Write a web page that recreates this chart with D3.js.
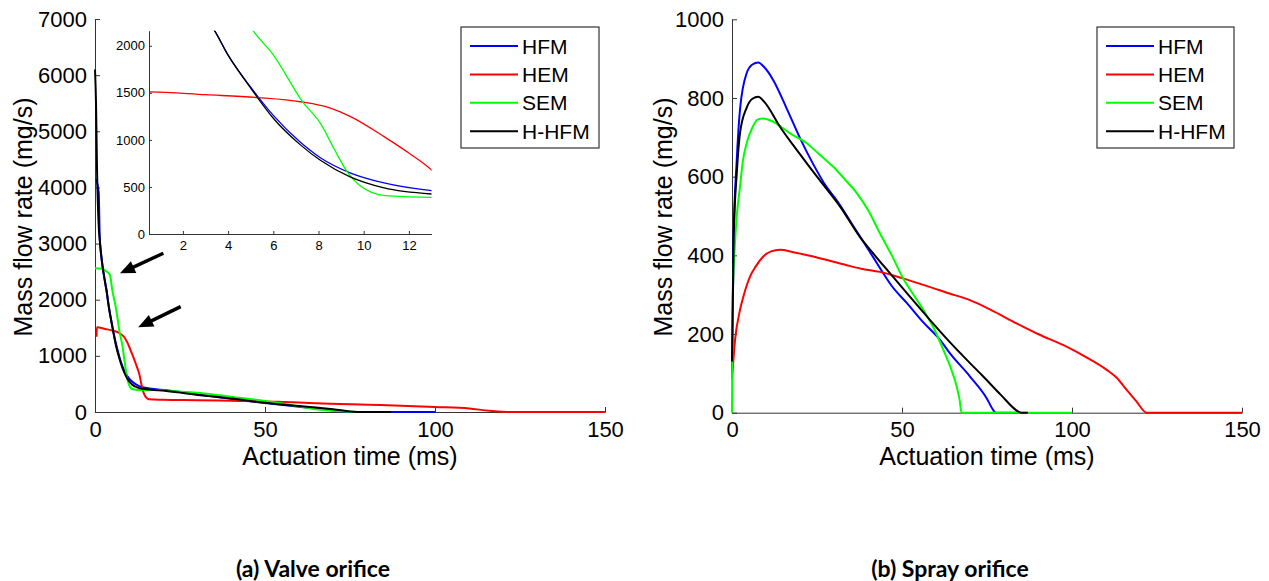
<!DOCTYPE html>
<html>
<head>
<meta charset="utf-8">
<script src="https://cdn.jsdelivr.net/npm/d3@7"></script>
<style>
  body { margin: 0; background: #fff; }
  svg { display: block; }
</style>
</head>
<body>
<div id="chart"></div>
<script>
// legend names and line colours, same order in both panels
const seriesNames = ['HFM', 'HEM', 'SEM', 'H-HFM'];
const seriesColors = ['#0000ff', '#ff0000', '#00ff00', '#000000'];

// (a) valve orifice, [actuation time ms, mass flow rate mg/s]
const valveHFM = [[0.3, 4150], [1.1, 3900], [1.4, 3100], [2, 2700], [3, 2300], [3.4, 2160], [4, 1900], [5, 1560],
  [6, 1260], [7.2, 975], [8.1, 808], [9.4, 650], [10.9, 542], [13, 460], [16, 420], [21, 388], [31, 305],
  [40, 235], [50, 160], [60, 95], [65, 60], [70, 25], [74, 3], [76, 0], [100, 0]];
const valveHEM = [[0.45, 1340], [0.55, 1510], [3, 1480], [5.3, 1450], [7.2, 1405], [8.5, 1340],
  [9.4, 1250], [10.9, 1035], [12, 860], [13, 680], [14, 400], [15, 260], [16, 225], [20, 218], [30, 210],
  [40, 200], [54, 183], [65, 155], [84, 125], [100, 89], [110, 62], [116, 23], [122, 0], [150, 0]];
const valveSEM = [[0, 2560], [2, 2550], [3.5, 2500], [4.4, 2440], [5.1, 2163], [6, 1904], [7.3, 1404],
  [8.1, 1170], [8.7, 900], [9.3, 650], [9.8, 520], [10.3, 447], [11.1, 404], [13, 390], [16, 398],
  [21, 378], [31, 338], [40, 272], [50, 195], [60, 100], [65, 50], [70, 20], [75, 3], [78, 0]];
const valveHHFM = [[0, 6100], [0.3, 5500], [0.6, 4300], [1.1, 3300], [1.5, 3000], [2, 2700], [3, 2300],
  [3.4, 2160], [4, 1900], [5, 1550], [5.3, 1450], [6, 1230], [7.2, 947], [8.1, 780], [9.4, 606],
  [10.9, 489], [13, 425], [16, 400], [21, 375], [31, 300], [40, 240], [50, 165], [60, 105], [65, 80],
  [70, 50], [77, 2], [87, 0]];

// (b) spray orifice
const sprayHFM = [[0, 100], [0.5, 450], [1.4, 642], [2.35, 770], [4.3, 863], [6, 885], [7.7, 890],
  [9.5, 878], [12.1, 846], [16, 775], [20, 698], [24, 630], [27.8, 574], [30.8, 540], [36, 470],
  [40.6, 408], [43.5, 368], [47, 322], [51.4, 279], [56, 232], [61.2, 185], [64, 152], [70, 92],
  [74.9, 37], [76.8, 7], [77.5, 0], [84, 0]];
const sprayHEM = [[0, 85], [0.9, 185], [2.35, 261], [3.5, 300], [5.3, 346], [7, 372], [9.2, 397],
  [11.5, 410], [14.1, 414], [18, 408], [23.9, 397], [28, 388], [33.7, 375], [38, 366], [43.5, 358],
  [50, 342], [56.3, 325], [64, 303], [70, 286], [76, 262], [83.7, 227], [90, 200], [98.4, 168],
  [104, 142], [110.2, 109], [113, 90], [116.1, 58], [119, 28], [122, 0], [150, 0]];
const spraySEM = [[0, 0], [0.2, 300], [0.8, 420], [1.4, 500], [2.35, 574], [3.2, 640], [4.3, 685],
  [6, 725], [7.5, 745], [9.2, 748], [12, 740], [17.1, 710], [22, 685], [25.5, 658], [29.8, 625],
  [33, 595], [36.7, 558], [40, 515], [43.5, 456], [47, 400], [50.3, 342], [53, 305], [56.3, 261],
  [59.5, 212], [62.2, 159], [64.5, 110], [66.1, 66], [67, 30], [67.5, 0], [100, 0]];
const sprayHHFM = [[0, 130], [0.5, 450], [1.4, 608], [2.35, 710], [4.3, 775], [6, 798], [7.7, 803],
  [9.5, 790], [14.1, 727], [18, 680], [22, 634], [27, 578], [31.8, 524], [37.6, 447], [42, 400],
  [46.5, 354], [52, 298], [58.2, 236], [64, 180], [70, 126], [73.9, 92], [79, 46], [84.2, 3],
  [85, 0], [87, 0]];

const xTicks = [0, 50, 100, 150];
const valveYTicks = [0, 1000, 2000, 3000, 4000, 5000, 6000, 7000];
const sprayYTicks = [0, 200, 400, 600, 800, 1000];
const insetXTicks = [2, 4, 6, 8, 10, 12];
const insetYTicks = [0, 500, 1000, 1500, 2000];

// arrows in panel (a), [tail, tip] in data units
const valveArrows = [[[20.1, 2827], [7.35, 2470]], [[25.2, 1877], [12.7, 1509]]];

const xTitle = 'Actuation time (ms)';
const yTitle = 'Mass flow rate (mg/s)';
const captions = ['(a) Valve orifice', '(b) Spray orifice'];

const font = '"Liberation Sans", Arial, sans-serif';
const width = 1269;
const height = 581;

const svg = d3.select('#chart')
  .append('svg')
  .attr('width', width)
  .attr('height', height)
  .style('background', '#fff');

const makeScales = ({xDomain, yDomain, left, right, top, bottom}) => {
  const x = d3.scaleLinear().domain(xDomain).range([left, right]);
  const y = d3.scaleLinear().domain(yDomain).range([bottom, top]);
  return {x, y};
};

const drawAxes = ({sel, scales, xValues, yValues, size, tick, padX, padY}) => {
  const [x0] = scales.x.range();
  const [y0] = scales.y.range();
  const fmt = d3.format('d');

  const gx = sel.append('g')
    .attr('transform', 'translate(0,' + y0 + ')')
    .call(d3.axisBottom(scales.x).tickValues(xValues).tickFormat(fmt)
      .tickSizeInner(-tick).tickSizeOuter(0).tickPadding(padX));

  const gy = sel.append('g')
    .attr('transform', 'translate(' + x0 + ',0)')
    .call(d3.axisLeft(scales.y).tickValues(yValues).tickFormat(fmt)
      .tickSizeInner(-tick).tickSizeOuter(0).tickPadding(padY));

  [gx, gy].forEach((g) => {
    g.select('.domain').attr('stroke', '#333');
    g.selectAll('.tick line').attr('stroke', '#333');
    g.selectAll('.tick text')
      .attr('font-family', font)
      .attr('font-size', size)
      .attr('fill', '#000');
  });
};

const makeLine = (scales) =>
  d3.line().curve(d3.curveMonotoneX).x((d) => scales.x(d[0])).y((d) => scales.y(d[1]));

const drawSeries = ({sel, scales, series, width}) => {
  const line = makeLine(scales);
  series.forEach((data, i) => {
    sel.append('path')
      .attr('d', line(data))
      .attr('fill', 'none')
      .attr('stroke', seriesColors[i])
      .attr('stroke-width', width)
      .attr('stroke-linejoin', 'round');
  });
};

const drawLegend = ({sel, left, top, w, h}) => {
  const g = sel.append('g');
  g.append('rect')
    .attr('x', left).attr('y', top)
    .attr('width', w).attr('height', h)
    .attr('fill', '#fff')
    .attr('stroke', '#333')
    .attr('stroke-width', 1.2);

  seriesNames.forEach((name, i) => {
    const cy = top + 19 + i * 28.4;
    g.append('line')
      .attr('x1', left + 9).attr('x2', left + 57)
      .attr('y1', cy).attr('y2', cy)
      .attr('stroke', seriesColors[i])
      .attr('stroke-width', 2);
    g.append('text')
      .attr('x', left + 61)
      .attr('y', cy)
      .attr('dy', '0.36em')
      .attr('font-family', font)
      .attr('font-size', 21)
      .text(name);
  });
};

const drawTitles = ({sel, scales, yTitleX}) => {
  const [x0, x1] = scales.x.range();
  sel.append('text')
    .attr('x', (x0 + x1) / 2)
    .attr('y', 465)
    .attr('text-anchor', 'middle')
    .attr('font-family', font)
    .attr('font-size', 25)
    .text(xTitle);

  sel.append('text')
    .attr('transform', `translate(${yTitleX}, 217) rotate(-90)`)
    .attr('text-anchor', 'middle')
    .attr('font-family', font)
    .attr('font-size', 25)
    .text(yTitle);
};

const drawArrows = ({sel, scales, arrows}) => {
  arrows.forEach(([tail, tip]) => {
    const tx = scales.x(tail[0]), ty = scales.y(tail[1]);
    const hx = scales.x(tip[0]), hy = scales.y(tip[1]);
    const len = Math.hypot(hx - tx, hy - ty);
    const ux = (hx - tx) / len, uy = (hy - ty) / len;
    const head = 15, half = 6.5;
    const bx = hx - ux * head, by = hy - uy * head;

    sel.append('line')
      .attr('x1', tx).attr('y1', ty)
      .attr('x2', bx + ux * 2).attr('y2', by + uy * 2)
      .attr('stroke', '#000')
      .attr('stroke-width', 3.5);

    sel.append('path')
      .attr('d', `M${hx},${hy}L${bx - uy * half},${by + ux * half}L${bx + uy * half},${by - ux * half}Z`)
      .attr('fill', '#000');
  });
};

// ---- panel (a) valve orifice
const valve = makeScales({xDomain: [0, 150], yDomain: [0, 7000], left: 95, right: 605, top: 19, bottom: 412});
const gValve = svg.append('g');
drawAxes({sel: gValve, scales: valve, xValues: xTicks, yValues: valveYTicks, size: 22, tick: 5, padX: 9, padY: 8});
drawSeries({sel: gValve, scales: valve, series: [valveHFM, valveHEM, valveSEM, valveHHFM], width: 2});
drawTitles({sel: gValve, scales: valve, yTitleX: 31.5});
drawArrows({sel: gValve, scales: valve, arrows: valveArrows});

// inset zoom of the first 13 ms
const inset = makeScales({xDomain: [0.5, 13], yDomain: [0, 2160], left: 149, right: 431.5, top: 30.7, bottom: 234});
const gInset = svg.append('g');
gInset.append('clipPath')
  .attr('id', 'inset_clip')
  .append('rect')
  .attr('x', 149).attr('y', 30.7)
  .attr('width', 431.5 - 149).attr('height', 234 - 30.7);
const gInsetLines = gInset.append('g').attr('clip-path', 'url(#inset_clip)');
drawSeries({sel: gInsetLines, scales: inset, series: [valveHFM, valveHEM, valveSEM, valveHHFM], width: 1.3});
drawAxes({sel: gInset, scales: inset, xValues: insetXTicks, yValues: insetYTicks, size: 13, tick: 3, padX: 7, padY: 4});

drawLegend({sel: svg, left: 461, top: 27, w: 138, h: 121});

// ---- panel (b) spray orifice
const spray = makeScales({xDomain: [0, 150], yDomain: [0, 1000], left: 732, right: 1242, top: 19.3, bottom: 412.7});
const gSpray = svg.append('g');
drawAxes({sel: gSpray, scales: spray, xValues: xTicks, yValues: sprayYTicks, size: 22, tick: 5, padX: 9, padY: 8});
drawSeries({sel: gSpray, scales: spray, series: [sprayHFM, sprayHEM, spraySEM, sprayHHFM], width: 2});
drawTitles({sel: gSpray, scales: spray, yTitleX: 671.7});

drawLegend({sel: svg, left: 1097, top: 27, w: 137, h: 121});

// captions under the panels
[313, 950].forEach((cx, i) => {
  svg.append('text')
    .attr('x', cx)
    .attr('y', 577)
    .attr('text-anchor', 'middle')
    .attr('font-family', 'Lato, "Open Sans", sans-serif')
    .attr('font-weight', 'bold')
    .attr('font-size', 23)
    .text(captions[i]);
});
</script>
</body>
</html>
